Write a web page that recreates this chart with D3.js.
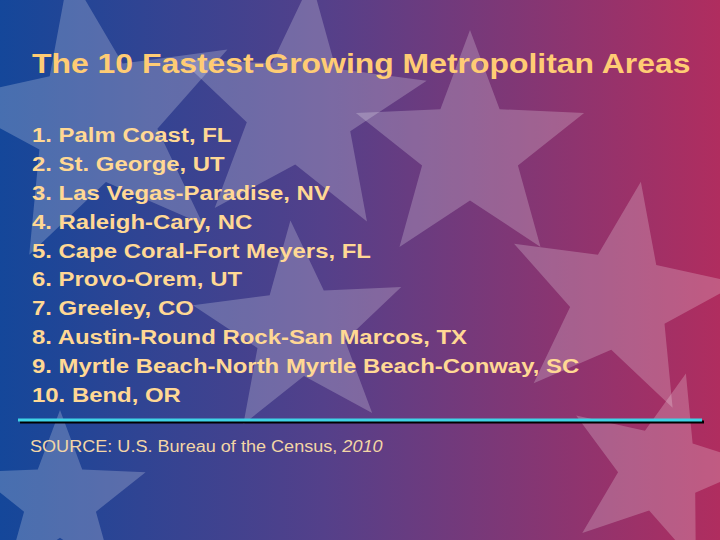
<!DOCTYPE html>
<html>
<head>
<meta charset="utf-8">
<script src="https://cdn.jsdelivr.net/npm/d3@7"></script>
<style>body{margin:0;overflow:hidden}</style>
</head>
<body>
<script>
var title = "The 10 Fastest-Growing Metropolitan Areas";
var ranks = [1, 2, 3, 4, 5, 6, 7, 8, 9, 10];
var areas = ["Palm Coast, FL", "St. George, UT", "Las Vegas-Paradise, NV", "Raleigh-Cary, NC",
  "Cape Coral-Fort Meyers, FL", "Provo-Orem, UT", "Greeley, CO", "Austin-Round Rock-San Marcos, TX",
  "Myrtle Beach-North Myrtle Beach-Conway, SC", "Bend, OR"];
var source = "SOURCE:  U.S. Bureau of the Census, ";
var sourceYear = "2010";

var width = 720, height = 540;
var svg = d3.select("body").append("svg").attr("width", width).attr("height", height);

var defs = svg.append("defs");
var grad = defs.append("linearGradient").attr("id", "bg");
grad.append("stop").attr("offset", "0%").attr("stop-color", "#14479a");
grad.append("stop").attr("offset", "45%").attr("stop-color", "#54408a");
grad.append("stop").attr("offset", "100%").attr("stop-color", "#b02d5f");
svg.append("rect").attr("width", width).attr("height", height).attr("fill", "url(#bg)");

// decorative stars: cx, cy, outer radius, rotation
var stars = [[95, 120, 150, -10], [300, 110, 130, 5], [470, 150, 120, 0], [300, 330, 110, -5],
  [620, 300, 120, 10], [60, 500, 90, 0], [660, 470, 100, 15]];
function starPath(cx, cy, r, rot) {
  var pts = [];
  for (var i = 0; i < 10; i++) {
    var a = (rot - 90 + i * 36) * Math.PI / 180;
    var rr = i % 2 ? r * 0.42 : r;
    pts.push([cx + rr * Math.cos(a), cy + rr * Math.sin(a)]);
  }
  return "M" + pts.join("L") + "Z";
}
svg.selectAll("path.star").data(stars).enter().append("path")
  .attr("d", function(d) { return starPath(d[0], d[1], d[2], d[3]); })
  .attr("fill", "#ffffff").attr("fill-opacity", 0.22);

// text in the slide is horizontally stretched
var txt = svg.append("g").attr("transform", "translate(32,0) scale(1.14,1)");

txt.append("text").attr("x", 0).attr("y", 73).text(title)
  .attr("font-family", "Liberation Sans, Arial").attr("font-weight", "bold")
  .attr("font-size", 28).attr("fill", "#ffcc74");

var y = d3.scalePoint().domain(ranks).range([142, 402]);
txt.selectAll("text.item").data(ranks).enter().append("text")
  .attr("x", 0).attr("y", function(d) { return y(d); })
  .text(function(d, i) { return d + ". " + areas[i]; })
  .attr("font-family", "Liberation Sans, Arial").attr("font-weight", "bold")
  .attr("font-size", 21).attr("fill", "#ffd894");

svg.append("line").attr("x1", 20).attr("x2", 704).attr("y1", 422).attr("y2", 422)
  .attr("stroke", "#000").attr("stroke-width", 3);
svg.append("line").attr("x1", 18).attr("x2", 702).attr("y1", 420).attr("y2", 420)
  .attr("stroke", "#3fd3e6").attr("stroke-width", 3);

var s = svg.append("text").attr("transform", "translate(30,452) scale(1.13,1)")
  .attr("font-family", "Liberation Sans, Arial").attr("font-size", 16).attr("fill", "#f3d6a6");
s.append("tspan").text(source);
s.append("tspan").attr("font-style", "italic").text(sourceYear);
</script>
</body>
</html>
